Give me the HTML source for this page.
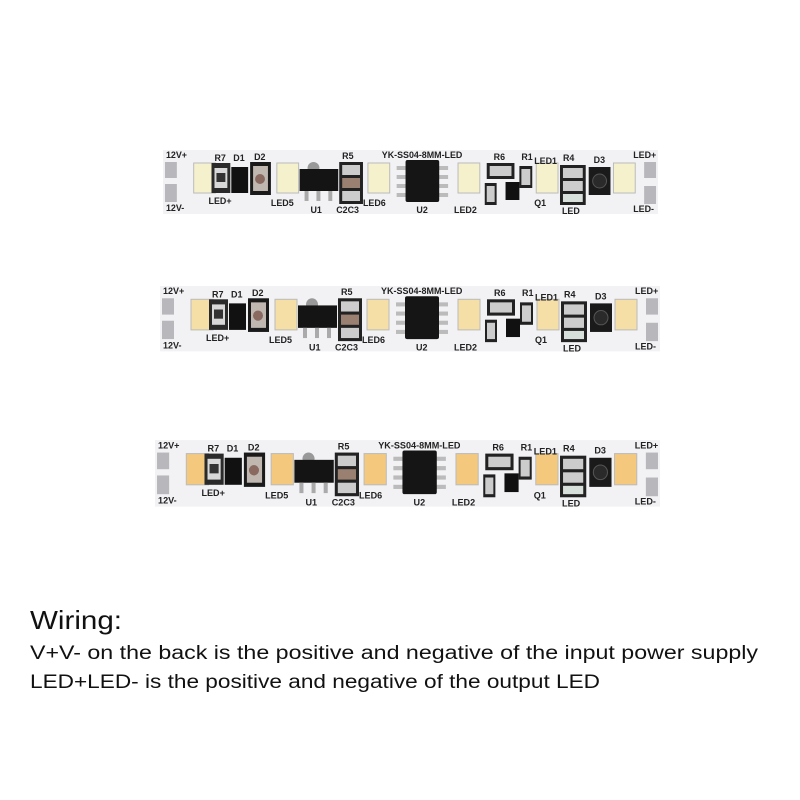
<!DOCTYPE html>
<html><head><meta charset="utf-8"><style>
html,body{margin:0;padding:0;background:#fff;width:800px;height:800px;overflow:hidden}
svg{display:block}
.l{font-family:"Liberation Sans",sans-serif;font-size:9px;fill:#222;font-weight:bold}
</style></head><body>
<svg width="800" height="800" viewBox="0 0 800 800" xmlns="http://www.w3.org/2000/svg">
<defs>
<g id="comp">
 <!-- pads -->
 <rect x="2" y="14" width="12" height="16" fill="#b8b8bc"/>
 <rect x="2" y="36" width="12" height="18" fill="#b8b8bc"/>
 <rect x="486" y="14" width="12" height="16" fill="#b8b8bc"/>
 <rect x="486" y="38" width="12" height="18" fill="#b8b8bc"/>
 <!-- R7 -->
 <rect x="49" y="15" width="19" height="30" fill="#2a2a2a"/><rect x="52" y="20" width="13" height="20" fill="#d8d8d8"/><rect x="54" y="25" width="9" height="9" fill="#333"/>
 <!-- D1 -->
 <rect x="69" y="19" width="17" height="26" fill="#111"/>
 <!-- D2 -->
 <rect x="88" y="14" width="21" height="33" fill="#1a1a1a"/><rect x="91" y="18" width="15" height="25" fill="#c0b8b0"/><circle cx="98" cy="31" r="5" fill="#8a6a60"/>
 <!-- U1 -->
 <circle cx="152" cy="20" r="6" fill="#999"/>
 <rect x="138" y="21" width="39" height="22" fill="#141414"/>
 <rect x="143" y="43" width="4" height="10" fill="#aaa"/><rect x="155" y="43" width="4" height="10" fill="#aaa"/><rect x="167" y="43" width="4" height="10" fill="#aaa"/>
 <!-- R5/C2C3 -->
 <rect x="178" y="14" width="24" height="42" fill="#222"/><rect x="181" y="17" width="18" height="10" fill="#ccc"/><rect x="181" y="30" width="18" height="10" fill="#9a8070"/><rect x="181" y="43" width="18" height="10" fill="#ccc"/>
 <!-- U2 -->
 <g fill="#bbb"><rect x="236" y="18" width="10" height="4"/><rect x="236" y="27" width="10" height="4"/><rect x="236" y="36" width="10" height="4"/><rect x="236" y="45" width="10" height="4"/>
 <rect x="278" y="18" width="10" height="4"/><rect x="278" y="27" width="10" height="4"/><rect x="278" y="36" width="10" height="4"/><rect x="278" y="45" width="10" height="4"/></g>
 <rect x="245" y="12" width="34" height="42" rx="2" fill="#151515"/>
 <!-- R6/R1/Q1 -->
 <rect x="327" y="15" width="28" height="16" fill="#222"/><rect x="330" y="18" width="22" height="10" fill="#ccc"/>
 <rect x="360" y="18" width="13" height="22" fill="#222"/><rect x="362" y="21" width="9" height="16" fill="#ccc"/>
 <rect x="325" y="35" width="12" height="22" fill="#222"/><rect x="327" y="38" width="8" height="16" fill="#ccc"/>
 <rect x="346" y="34" width="14" height="18" fill="#111"/>
 <!-- R4 / LED -->
 <rect x="401" y="17" width="26" height="40" fill="#222"/><rect x="404" y="20" width="20" height="10" fill="#ccc"/><rect x="404" y="33" width="20" height="10" fill="#ccc"/><rect x="404" y="46" width="20" height="8" fill="#d8e0dc"/>
 <!-- D3 -->
 <rect x="430" y="19" width="22" height="28" fill="#1a1a1a"/><circle cx="441" cy="33" r="7" fill="#2a2a2a" stroke="#555"/>
 <!-- labels -->
 <text class="l" x="3" y="10">12V+</text><text class="l" x="3" y="63">12V-</text>
 <text class="l" x="52" y="13">R7</text><text class="l" x="71" y="13">D1</text><text class="l" x="92" y="12">D2</text>
 <text class="l" x="46" y="56">LED+</text><text class="l" x="109" y="58">LED5</text><text class="l" x="149" y="65">U1</text>
 <text class="l" x="181" y="11">R5</text><text class="l" x="175" y="65">C2C3</text><text class="l" x="202" y="58">LED6</text>
 <text class="l" x="221" y="10">YK-SS04-8MM-LED</text><text class="l" x="256" y="65">U2</text><text class="l" x="294" y="65">LED2</text>
 <text class="l" x="334" y="12">R6</text><text class="l" x="362" y="12">R1</text><text class="l" x="375" y="16">LED1</text>
 <text class="l" x="404" y="13">R4</text><text class="l" x="435" y="15">D3</text><text class="l" x="375" y="58">Q1</text>
 <text class="l" x="403" y="66">LED</text><text class="l" x="475" y="10">LED+</text><text class="l" x="475" y="64">LED-</text>
</g>
</defs>

<!-- strip 1 -->
<g transform="translate(163,148) scale(0.99,1)">
 <rect x="0" y="2" width="500" height="64" fill="#f2f2f5"/>
 <g fill="#f4f1cc" stroke="#bbb"><rect x="31" y="15" width="22" height="30"/><rect x="115" y="15" width="22" height="30"/><rect x="207" y="15" width="22" height="30"/><rect x="298" y="15" width="22" height="30"/><rect x="377" y="15" width="22" height="30"/><rect x="455" y="15" width="22" height="30"/></g>
 <use href="#comp"/>
</g>
<!-- strip 2 -->
<g transform="translate(160,284) scale(1.0,1.02)">
 <rect x="0" y="2" width="500" height="64" fill="#f2f2f5"/>
 <g fill="#f6dfa6" stroke="#bbb"><rect x="31" y="15" width="22" height="30"/><rect x="115" y="15" width="22" height="30"/><rect x="207" y="15" width="22" height="30"/><rect x="298" y="15" width="22" height="30"/><rect x="377" y="15" width="22" height="30"/><rect x="455" y="15" width="22" height="30"/></g>
 <use href="#comp"/>
</g>
<!-- strip 3 -->
<g transform="translate(155,438) scale(1.01,1.04)">
 <rect x="0" y="2" width="500" height="64" fill="#f2f2f5"/>
 <g fill="#f4c97e" stroke="#bbb"><rect x="31" y="15" width="22" height="30"/><rect x="115" y="15" width="22" height="30"/><rect x="207" y="15" width="22" height="30"/><rect x="298" y="15" width="22" height="30"/><rect x="377" y="15" width="22" height="30"/><rect x="455" y="15" width="22" height="30"/></g>
 <use href="#comp"/>
</g>

<text x="30" y="629" font-family="Liberation Sans, sans-serif" font-size="26" fill="#111" textLength="92" lengthAdjust="spacingAndGlyphs">Wiring:</text>
<text x="30" y="659" font-family="Liberation Sans, sans-serif" font-size="19" fill="#111" textLength="728" lengthAdjust="spacingAndGlyphs">V+V- on the back is the positive and negative of the input power supply</text>
<text x="30" y="688" font-family="Liberation Sans, sans-serif" font-size="19" fill="#111" textLength="570" lengthAdjust="spacingAndGlyphs">LED+LED- is the positive and negative of the output LED</text>
</svg>
</body></html>
